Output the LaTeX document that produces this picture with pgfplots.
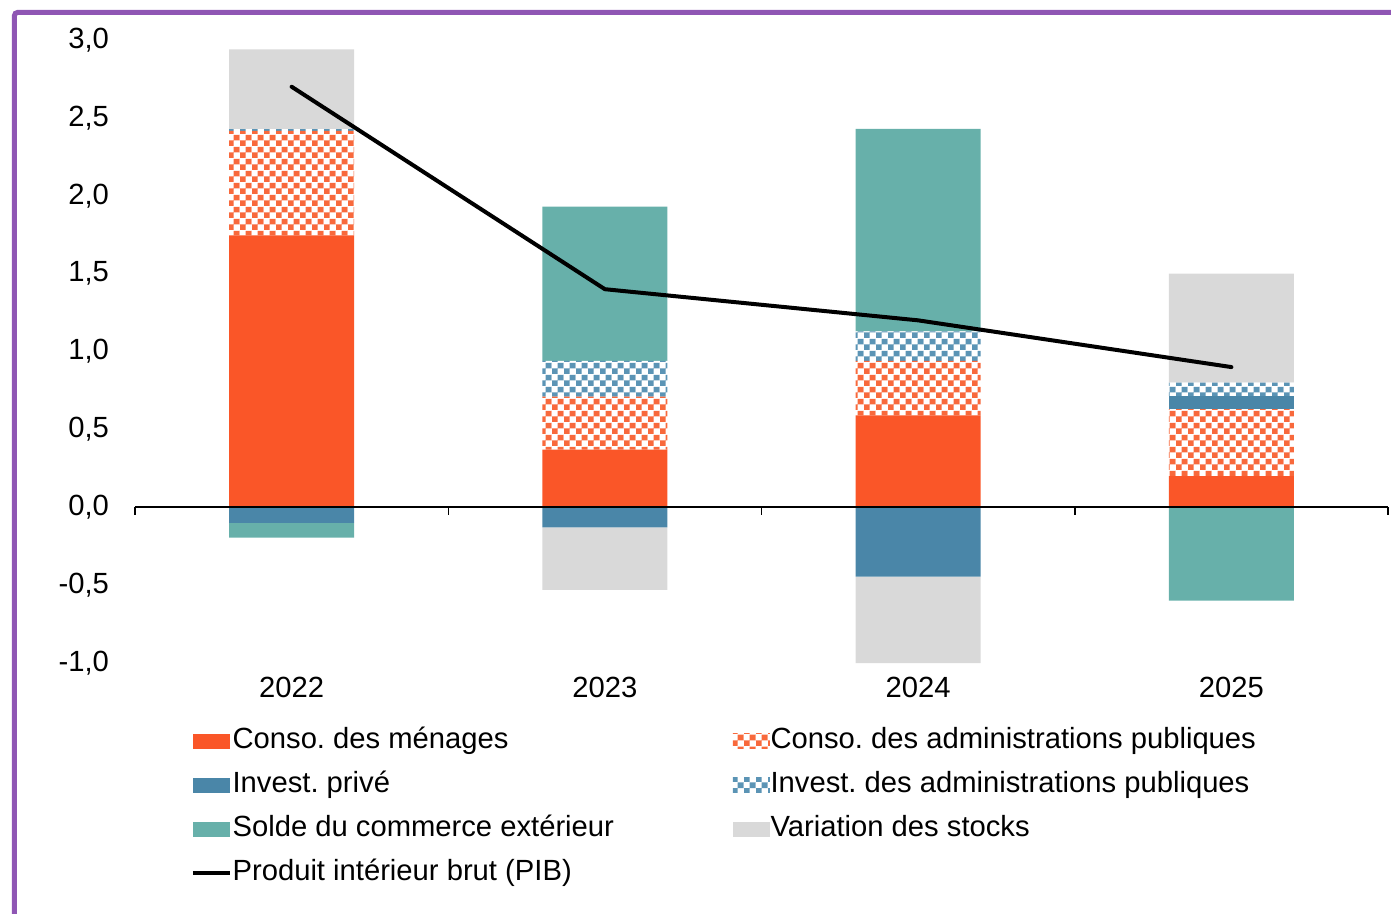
\documentclass[border=0pt]{standalone}
\usepackage{fontspec}
\setmainfont{Liberation Sans}
\usepackage{pgfplots}
\pgfplotsset{compat=1.18}
\usetikzlibrary{patterns}
\frenchspacing

\definecolor{cmen}{HTML}{FA5628}
\definecolor{capu}{HTML}{F8693C}
\definecolor{cinvp}{HTML}{4A86A8}
\definecolor{cinva}{HTML}{5B94B5}
\definecolor{csolde}{HTML}{67B0AA}
\definecolor{cstock}{HTML}{D9D9D9}
\definecolor{cframe}{HTML}{8F56B4}

\pgfdeclarepatterninherentlycolored{checkred}{\pgfpointorigin}{\pgfpoint{6bp}{6bp}}{\pgfpoint{6bp}{6bp}}{%
  \pgfsetfillcolor{white}\pgfpathrectangle{\pgfpointorigin}{\pgfpoint{6bp}{6bp}}\pgfusepath{fill}%
  \pgfsetfillcolor{capu}\pgfpathrectangle{\pgfpointorigin}{\pgfpoint{3bp}{3bp}}%
  \pgfpathrectangle{\pgfpoint{3bp}{3bp}}{\pgfpoint{3bp}{3bp}}\pgfusepath{fill}}
\pgfdeclarepatterninherentlycolored{checkblue}{\pgfpointorigin}{\pgfpoint{6bp}{6bp}}{\pgfpoint{6bp}{6bp}}{%
  \pgfsetfillcolor{white}\pgfpathrectangle{\pgfpointorigin}{\pgfpoint{6bp}{6bp}}\pgfusepath{fill}%
  \pgfsetfillcolor{cinva}\pgfpathrectangle{\pgfpointorigin}{\pgfpoint{3bp}{3bp}}%
  \pgfpathrectangle{\pgfpoint{3bp}{3bp}}{\pgfpoint{3bp}{3bp}}\pgfusepath{fill}}

\newcommand{\chartfont}{\fontsize{14.6bp}{17bp}\selectfont}

\pgfplotsset{
  common/.style={
    scale only axis, width=626.5bp, height=311.5bp,
    at={(0,0)}, anchor=south west,
    xmin=-0.5, xmax=3.5, ymin=-1, ymax=3,
    clip=false,
  },
  barsax/.style={
    common,
    ybar stacked, bar width=62.5bp,
  },
}

\begin{document}
\begin{tikzpicture}
\useasboundingbox (-67.5bp,-125.5bp) rectangle (628bp,331.5bp);

% positive parts
\begin{axis}[
  barsax,
  axis line style={draw=none},
  major tick length=0pt,
  tick style={draw=none},
  xtick={0,1,2,3},
  xticklabels={2022,2023,2024,2025},
  ytick={-1,-0.5,0,0.5,1,1.5,2,2.5,3},
  /pgf/number format/fixed,
  /pgf/number format/fixed zerofill,
  /pgf/number format/precision=1,
  /pgf/number format/use comma,
  /pgf/number format/assume math mode=true,
  every tick label/.append style={font=\chartfont},
  yticklabel style={anchor=east, xshift=-9.5bp},
  xticklabel style={anchor=north, yshift=-3.5bp},
  legend columns=2,
  legend cell align=left,
  legend style={
    draw=none, fill=none, inner sep=0pt, outer sep=0pt,
    at={(0.0447,-0.1043)}, anchor=north west,
    font=\chartfont,
    row sep=8.5bp,
    nodes={inner sep=0pt, text height=10.5bp, text depth=3bp},
    /tikz/every odd column/.append style={column sep=0.3bp},
    /tikz/every even column/.append style={column sep=59.5bp},
  },
  legend image code/.code={\path[#1,draw=none] (0bp,-3.75bp) rectangle (18.5bp,3.75bp);},
]
\addplot[fill=cmen, draw=none] coordinates {(0,1.745) (1,0.37) (2,0.59) (3,0.20)};
\addlegendentry{Conso. des ménages}
\addplot[pattern=checkred, draw=none] coordinates {(0,0.672) (1,0.34) (2,0.35) (3,0.43)};
\addlegendentry{Conso. des administrations publiques}
\addplot[fill=cinvp, draw=none] coordinates {(0,0) (1,0) (2,0) (3,0.085)};
\addlegendentry{Invest. privé}
\addplot[pattern=checkblue, draw=none] coordinates {(0,0.01) (1,0.23) (2,0.19) (3,0.085)};
\addlegendentry{Invest. des administrations publiques}
\addplot[fill=csolde, draw=none] coordinates {(0,0) (1,0.99) (2,1.30) (3,0)};
\addlegendentry{Solde du commerce extérieur}
\addplot[fill=cstock, draw=none] coordinates {(0,0.513) (1,0) (2,0) (3,0.70)};
\addlegendentry{Variation des stocks}
\addlegendimage{legend image code/.code={\draw[black,line width=2bp] (0bp,0bp) -- (18.5bp,0bp);}}
\addlegendentry{Produit intérieur brut (PIB)}
\end{axis}

% negative parts
\begin{axis}[barsax, hide axis]
\addplot[fill=cinvp, draw=none] coordinates {(0,-0.10) (1,-0.13) (2,-0.445) (3,0)};
\addplot[fill=csolde, draw=none] coordinates {(0,-0.095) (1,0) (2,0) (3,-0.60)};
\addplot[fill=cstock, draw=none] coordinates {(0,0) (1,-0.40) (2,-0.555) (3,0)};
\end{axis}

% axis line and GDP line
\begin{axis}[common, hide axis]
\draw[black, line width=0.75bp] (axis cs:-0.5,0) -- (axis cs:3.5,0);
\pgfplotsinvokeforeach{-0.5,0.5,1.5,2.5,3.5}{
  \draw[black, line width=0.75bp] (axis cs:#1,0) -- ([yshift=-4bp]axis cs:#1,0);
}
\addplot[black, line width=2bp, mark=none, line join=round, line cap=round]
  coordinates {(0,2.7) (1,1.4) (2,1.2) (3,0.9)};
\end{axis}

% frame
\draw[cframe, line width=2.5bp, rounded corners=1.5bp] (-60.25bp,-140bp) -- (-60.25bp,325.25bp) -- (640bp,325.25bp);
\end{tikzpicture}
\end{document}
